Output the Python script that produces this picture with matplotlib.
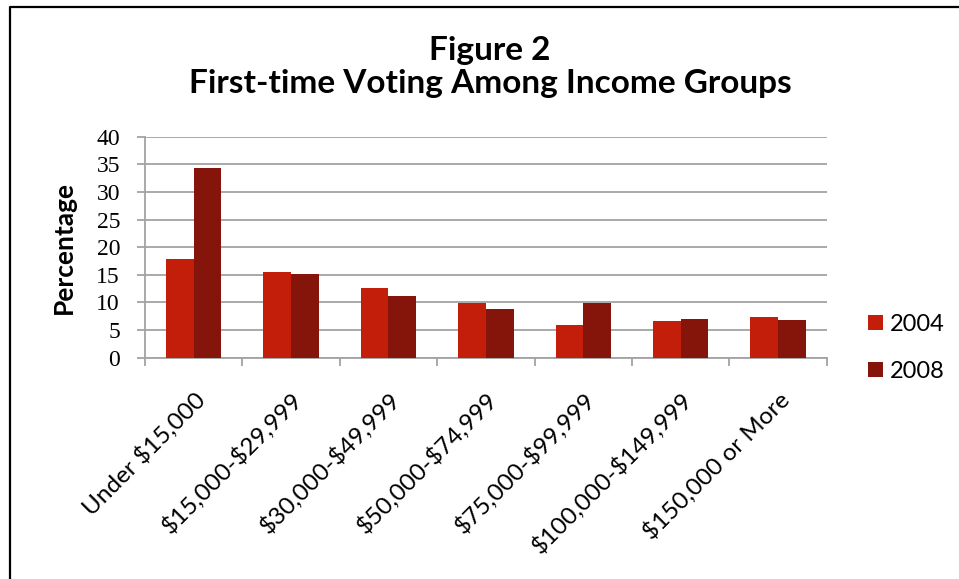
import matplotlib
matplotlib.use("Agg")
import matplotlib.pyplot as plt
import numpy as np
from matplotlib.lines import Line2D

plt.rcParams["text.parse_math"] = False

categories = ["Under $15,000", "$15,000-$29,999", "$30,000-$49,999",
              "$50,000-$74,999", "$75,000-$99,999", "$100,000-$149,999",
              "$150,000 or More"]
series_names = ["2004", "2008"]
values_2004 = [17.9, 15.6, 12.6, 9.9, 5.9, 6.6, 7.3]
values_2008 = [34.3, 15.2, 11.2, 8.8, 9.9, 7.0, 6.8]
y_ticks = [0, 5, 10, 15, 20, 25, 30, 35, 40]

color_2004 = "#C21E0A"
color_2008 = "#85150B"
grid_color = "#A3A3A3"
sans = ["Lato", "DejaVu Sans"]
serif = ["Liberation Serif", "DejaVu Serif"]

fig = plt.figure(figsize=(9.59, 5.79), dpi=100)
fig.patch.set_facecolor("white")
ax = fig.add_axes([145 / 959, 1 - 357.7 / 579, (826.7 - 145) / 959, 221 / 579])

x = np.arange(len(categories))
w = 0.284
ax.bar(x - w / 2, values_2004, width=w, color=color_2004, label=series_names[0], zorder=3)
ax.bar(x + w / 2, values_2008, width=w, color=color_2008, label=series_names[1], zorder=3)

ax.set_xlim(-0.5, len(categories) - 0.5)
ax.set_ylim(0, 40)
ax.set_yticks(y_ticks)
ax.set_yticklabels([str(t) for t in y_ticks], fontfamily=serif, fontsize=17)
ax.yaxis.grid(True, color=grid_color, linewidth=1.3, zorder=0)
ax.set_axisbelow(True)

# category boundaries carry the tick marks, labels sit at the centres
ax.set_xticks(np.arange(-0.5, len(categories), 1.0))
ax.set_xticklabels([])
ax.set_xticks(x, minor=True)
ax.set_xticklabels(categories, minor=True, rotation=45, ha="right",
                   rotation_mode="anchor", fontfamily=sans, fontsize=17.5)
ax.tick_params(axis="x", which="minor", length=0, pad=22)
ax.tick_params(axis="x", which="major", length=6, width=1.3, color=grid_color,
               direction="out")
ax.tick_params(axis="y", length=6, width=1.3, color=grid_color, pad=12)

for side in ["top", "right"]:
    ax.spines[side].set_visible(False)
for side in ["left", "bottom"]:
    ax.spines[side].set_color(grid_color)
    ax.spines[side].set_linewidth(1.3)

ax.set_ylabel("Percentage", fontfamily=sans, fontweight="bold", fontsize=19)
ax.yaxis.set_label_coords((76 - 145) / (826.7 - 145), 0.5)

leg = ax.legend(loc="center left", bbox_to_anchor=(1.03, 0.045), frameon=False,
                prop={"family": sans, "size": 17}, handlelength=0.6,
                handleheight=0.6, handletextpad=0.3, labelspacing=1.1)

fig.text(490 / 959, 1 - 67 / 579, "Figure 2\nFirst-time Voting Among Income Groups",
         ha="center", va="center", fontfamily=sans, fontweight="bold",
         fontsize=24, linespacing=1.15)

# outer frame of the chart area
fig.add_artist(Line2D([10 / 959, 10 / 959, 1.0], [0.0, 1 - 7 / 579, 1 - 7 / 579],
                      transform=fig.transFigure, color="black", linewidth=1.6))

fig.savefig("out.png", dpi=100, facecolor="white")
